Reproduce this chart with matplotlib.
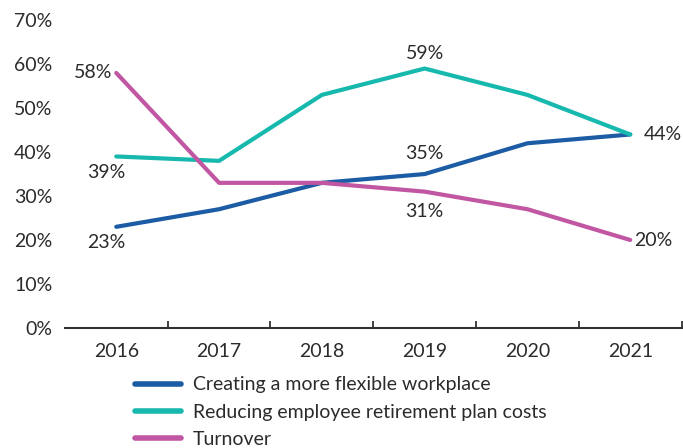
import matplotlib.pyplot as plt
import numpy as np

plt.rcParams["font.family"] = ["Lato", "DejaVu Sans"]

years = ["2016", "2017", "2018", "2019", "2020", "2021"]
flexible = [23, 27, 33, 35, 42, 44]
retirement_costs = [39, 38, 53, 59, 53, 44]
turnover = [58, 33, 33, 31, 27, 20]

blue = "#1b5ca4"
teal = "#17b9ae"
pink = "#c156a2"
text_color = "#2b2b2b"
fs = 14

fig = plt.figure(figsize=(6.83, 4.48), dpi=100)
ax = fig.add_axes([0.095, 0.268, 0.903, 0.687])

x = np.arange(len(years))
ax.plot(x, flexible, color=blue, lw=3, solid_capstyle="round",
        label="Creating a more flexible workplace")
ax.plot(x, retirement_costs, color=teal, lw=3, solid_capstyle="round",
        label="Reducing employee retirement plan costs")
ax.plot(x, turnover, color=pink, lw=3, solid_capstyle="round",
        label="Turnover")

# value labels: (series, index, offset in points, alignment)
labels = [
    (turnover, 0, (-3, 0), "right"),
    (retirement_costs, 0, (-7, -11.5), "center"),
    (flexible, 0, (-7, -11), "center"),
    (retirement_costs, 3, (0, 11), "center"),
    (flexible, 3, (0, 15), "center"),
    (turnover, 3, (0, -14), "center"),
    (flexible, 5, (10, 0), "left"),
    (turnover, 5, (3, -0.5), "left"),
]
for series, i, off, ha in labels:
    ax.annotate(f"{series[i]}%", (x[i], series[i]), xytext=off,
                textcoords="offset points", ha=ha, va="center",
                fontsize=fs, color=text_color)

ax.set_xlim(-0.5, len(years) - 0.5)
ax.set_ylim(0, 70)
ax.set_yticks(np.arange(0, 71, 10))
ax.set_yticklabels([f"{v}%" for v in range(0, 71, 10)])
ax.set_xticks(x)
ax.set_xticklabels(years)
ax.set_xticks(np.arange(0.5, len(years), 1), minor=True)

ax.tick_params(axis="y", length=0, pad=9, labelsize=fs, labelcolor=text_color)
ax.tick_params(axis="x", which="major", length=0, pad=11, labelsize=fs,
               labelcolor=text_color)
ax.tick_params(axis="x", which="minor", length=5, width=1.3, color="#333333",
               direction="in")

for side in ["top", "right", "left"]:
    ax.spines[side].set_visible(False)
ax.spines["bottom"].set_color("#333333")
ax.spines["bottom"].set_linewidth(1.5)

leg = ax.legend(loc="upper left", bbox_to_anchor=(0.186, 0.177),
                bbox_transform=fig.transFigure, frameon=False,
                fontsize=fs, handlelength=2.4, handletextpad=0.6,
                labelspacing=0.52, borderaxespad=0)
for line in leg.get_lines():
    line.set_linewidth(4)
for t in leg.get_texts():
    t.set_color(text_color)

fig.savefig("out.png", dpi=100)
